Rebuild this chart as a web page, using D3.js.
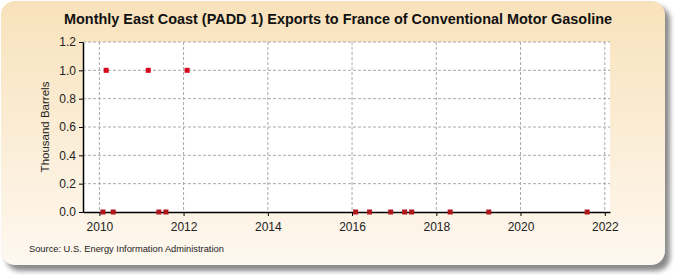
<!DOCTYPE html>
<html>
<head>
<meta charset="utf-8">
<script src="https://cdn.jsdelivr.net/npm/d3@7"></script>
<style>
  body { margin: 0; background: #fff; }
  text { font-family: "Liberation Sans", Arial, sans-serif; }
</style>
</head>
<body>
<div id="chart"></div>
<script>
// chart data (month strings, values in thousand barrels)
var months = ["2010-02", "2010-03", "2010-05", "2011-03", "2011-06", "2011-08", "2012-02",
    "2016-02", "2016-06", "2016-12", "2017-04", "2017-06", "2018-05", "2019-04", "2021-08"];
var values = [0, 1, 0, 1, 0, 0, 1, 0, 0, 0, 0, 0, 0, 0, 0];
var yTicks = [0, 0.2, 0.4, 0.6, 0.8, 1.0, 1.2];
var xTickYears = [2010, 2012, 2014, 2016, 2018, 2020, 2022];

var width = 675;
var height = 275;
var margin = { top: 42, right: 65, bottom: 63, left: 83 };

var svg = d3.select("#chart")
    .append("svg")
    .attr("width", width)
    .attr("height", height);

var defs = svg.append("defs");
var grad = defs.append("linearGradient")
    .attr("id", "bg")
    .attr("x1", 0).attr("y1", 0).attr("x2", 0).attr("y2", 1);
grad.append("stop").attr("offset", "0%").attr("stop-color", "#f8e2bb");
grad.append("stop").attr("offset", "100%").attr("stop-color", "#fef8f0");

var blur = defs.append("filter").attr("id", "shadow");
blur.append("feGaussianBlur").attr("stdDeviation", 2.5);

// panel + shadow
svg.append("rect")
    .attr("x", 6).attr("y", 6)
    .attr("width", 664).attr("height", 265)
    .attr("rx", 14)
    .attr("fill", "#8a8a8a")
    .attr("filter", "url(#shadow)");
svg.append("rect")
    .attr("x", 1).attr("y", 1)
    .attr("width", 664).attr("height", 264)
    .attr("rx", 14)
    .attr("fill", "url(#bg)");

var plotW = width - margin.left - margin.right;
var plotH = height - margin.top - margin.bottom;

var parse = d3.timeParse("%Y-%m");
var data = months.map(function (m, i) { return { date: parse(m), value: values[i] }; });

var x = d3.scaleTime()
    .domain([new Date(2009, 7, 12), new Date(2022, 1, 15)])
    .range([0, plotW]);
var y = d3.scaleLinear()
    .domain([0, 1.2])
    .range([plotH, 0]);

var g = svg.append("g")
    .attr("transform", "translate(" + margin.left + "," + margin.top + ")");

g.append("rect")
    .attr("width", plotW).attr("height", plotH)
    .attr("fill", "#fff");

// grid lines
var xTickDates = xTickYears.map(function (yr) { return new Date(yr, 0, 1); });
g.selectAll(".vgrid")
    .data(xTickDates)
    .enter()
    .append("line")
    .attr("x1", function (d) { return x(d); })
    .attr("x2", function (d) { return x(d); })
    .attr("y1", 0).attr("y2", plotH)
    .attr("stroke", "#aaa")
    .attr("stroke-dasharray", "3,2");
g.selectAll(".hgrid")
    .data(yTicks.slice(1))
    .enter()
    .append("line")
    .attr("x1", 0).attr("x2", plotW)
    .attr("y1", function (d) { return y(d); })
    .attr("y2", function (d) { return y(d); })
    .attr("stroke", "#aaa")
    .attr("stroke-dasharray", "3,2");

// axes
var yAxis = g.append("g")
    .call(d3.axisLeft(y).tickValues(yTicks).tickFormat(d3.format(".1f")).tickSize(4).tickSizeOuter(0));
var xAxis = g.append("g")
    .attr("transform", "translate(0," + plotH + ")")
    .call(d3.axisBottom(x).tickValues(xTickDates).tickFormat(d3.timeFormat("%Y")).tickSize(4).tickSizeOuter(0));

[xAxis, yAxis].forEach(function (a) {
    a.select(".domain").attr("stroke", "#000").attr("stroke-width", 1.5);
    a.selectAll(".tick line").attr("stroke", "#000");
    a.selectAll("text")
        .attr("font-size", 12)
        .attr("fill", "#222")
        .style("font-family", "'Liberation Sans', Arial, sans-serif");
});
xAxis.selectAll("text").attr("dy", "1.0em");

// points
g.selectAll(".pt")
    .data(data)
    .enter()
    .append("rect")
    .attr("x", function (d) { return x(d.date) - 2.5; })
    .attr("y", function (d) { return y(d.value) - 2.5; })
    .attr("width", 5).attr("height", 5)
    .attr("fill", function (d) { return d.value > 0 ? "#d40a1c" : "#b0161c"; });

// titles
svg.append("text")
    .attr("x", 338).attr("y", 24)
    .attr("text-anchor", "middle")
    .attr("font-size", 14.5)
    .attr("font-weight", "bold")
    .attr("fill", "#111")
    .attr("textLength", 548)
    .attr("lengthAdjust", "spacingAndGlyphs")
    .text("Monthly East Coast (PADD 1) Exports to France of Conventional Motor Gasoline");

svg.append("text")
    .attr("transform", "translate(49," + (margin.top + plotH / 2) + ") rotate(-90)")
    .attr("text-anchor", "middle")
    .attr("font-size", 11.5)
    .attr("fill", "#222")
    .text("Thousand Barrels");

svg.append("text")
    .attr("x", 29).attr("y", 252)
    .attr("font-size", 9.3)
    .attr("fill", "#222")
    .text("Source: U.S. Energy Information Administration");
</script>
</body>
</html>
